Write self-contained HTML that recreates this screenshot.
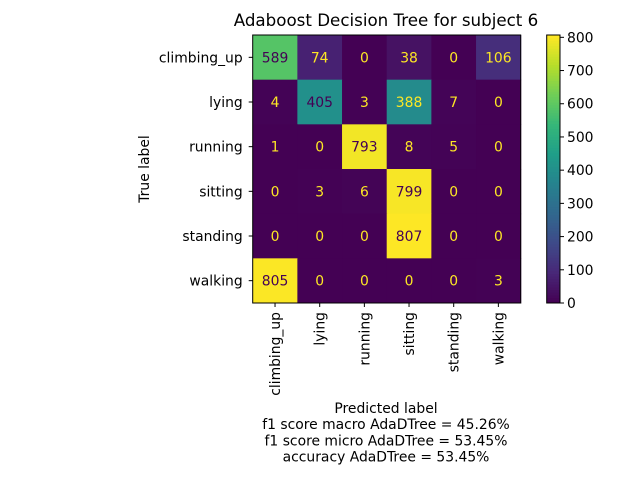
<!DOCTYPE html>
<html><head><meta charset="utf-8"><style>
body{margin:0;background:#fff}
svg text{font-family:"DejaVu Sans","Liberation Sans",sans-serif}
</style></head><body>
<svg id="c" width="640" height="480" xmlns="http://www.w3.org/2000/svg"></svg>
<script>
const labels=["climbing_up","lying","running","sitting","standing","walking"];
const row0=[589,74,0,38,0,106];
const row1=[4,405,3,388,7,0];
const row2=[1,0,793,8,5,0];
const row3=[0,3,6,799,0,0];
const row4=[0,0,0,807,0,0];
const row5=[805,0,0,0,0,3];
const matrix=[row0,row1,row2,row3,row4,row5];
const cbTicks=[0,100,200,300,400,500,600,700,800];
const footer=["Predicted label","f1 score macro AdaDTree = 45.26%","f1 score micro AdaDTree = 53.45%","accuracy AdaDTree = 53.45%"];

const svg=document.getElementById('c');
const NS="http://www.w3.org/2000/svg";
function el(t,a,txt){const e=document.createElementNS(NS,t);for(const k in a)e.setAttribute(k,a[k]);if(txt!==undefined)e.textContent=txt;svg.appendChild(e);return e;}
const vir=[[68,1,84],[72,40,120],[62,74,137],[49,104,142],[38,130,142],[31,158,137],[53,183,121],[110,206,88],[181,222,43],[253,231,37]];
function viridis(t){t=Math.max(0,Math.min(1,t))*(vir.length-1);const i=Math.min(Math.floor(t),vir.length-2),f=t-i;const c=vir[i].map((v,k)=>Math.round(v+(vir[i+1][k]-v)*f));return `rgb(${c})`;}
const vmin=Math.min(...matrix.flat()),vmax=Math.max(...matrix.flat());
const X0=252.7,Y0=35,W=268,n=labels.length,cs=W/n;
const FS=13.9;
const xs=i=>X0+i*cs, ys=i=>Y0+i*cs;

let t=el('text',{x:386,y:26,'font-size':16.7,'text-anchor':'middle'},'Adaboost Decision Tree for subject 6');


matrix.forEach((row,r)=>row.forEach((v,c)=>{
  const rc=el('rect',{x:xs(c),y:ys(r),width:cs+0.5,height:cs+0.5,fill:viridis((v-vmin)/(vmax-vmin))});
  
  
  const tx=el('text',{x:xs(c)+cs/2,y:ys(r)+cs/2+5,'font-size':FS,'text-anchor':'middle',fill:v>(vmax+vmin)/2?'#440154':'#fde725'},v);
  
  
}));
el('rect',{x:X0,y:Y0,width:W,height:W,fill:'none',stroke:'#000','stroke-width':1});

labels.forEach((l,i)=>{
  el('line',{x1:X0-4,x2:X0,y1:ys(i)+cs/2,y2:ys(i)+cs/2,stroke:'#000'});
  const yl=el('text',{x:X0-10,y:ys(i)+cs/2+5,'font-size':FS,'text-anchor':'end'},l);
  
  
  const cx=xs(i)+cs/2;
  el('line',{x1:cx,x2:cx,y1:Y0+W,y2:Y0+W+4,stroke:'#000'});
  const xl=el('text',{x:cx+5,y:Y0+W+9,'font-size':FS,'text-anchor':'end',transform:`rotate(-90 ${cx+5} ${Y0+W+9})`},l);
  
  
});
const ya=el('text',{x:149,y:169,'font-size':FS,'text-anchor':'middle',transform:'rotate(-90 149 169)'},'True label');

footer.forEach((f,i)=>{
  const ft=el('text',{x:386,y:413+i*16.2,'font-size':FS,'text-anchor':'middle'},f);
  
  
});

const CX=546.7,CW=13.3,CT=Y0,CB=Y0+W;
const cy=v=>CB-(v-vmin)/(vmax-vmin)*(CB-CT);
for(let k=0;k<100;k++){
  const v0=vmin+(vmax-vmin)*k/100,v1=vmin+(vmax-vmin)*(k+1)/100;
  el('rect',{x:CX,y:cy(v1),width:CW,height:cy(v0)-cy(v1)+0.5,fill:viridis(k/99)});
}
const cbb=el('rect',{x:CX,y:CT,width:CW,height:CB-CT,fill:'none',stroke:'#000','stroke-width':1});

cbTicks.forEach(v=>{
  el('line',{x1:CX+CW,x2:CX+CW+4,y1:cy(v),y2:cy(v),stroke:'#000'});
  const ct=el('text',{x:CX+CW+7,y:cy(v)+5,'font-size':FS},v);
  
  
});
</script>
</body></html>
